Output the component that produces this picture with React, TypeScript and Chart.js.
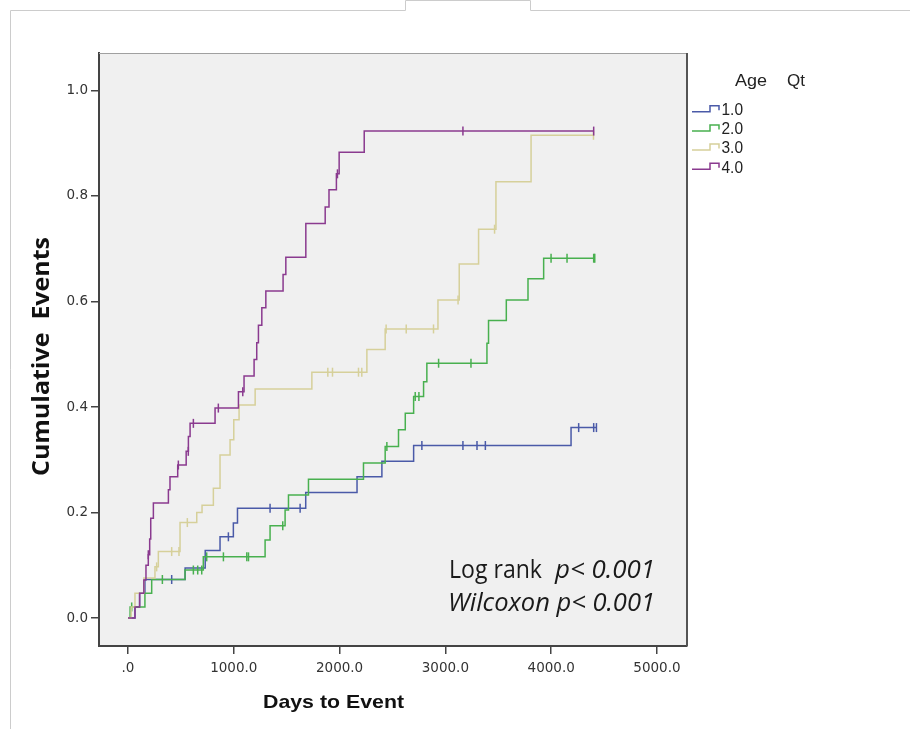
import { useEffect, useRef } from 'react';
import { Chart, registerables } from 'chart.js';

Chart.register(...registerables);

// ---- Data ----
const groupLabels = ['1.0', '2.0', '3.0', '4.0'];
const groupColors = ['#4a5aa8', '#48b04f', '#d6d09a', '#8a3a8f'];

const xTickValues = [0, 1000, 2000, 3000, 4000, 5000];
const yTickValues = [0, 0.2, 0.4, 0.6, 0.8, 1.0];

const q1Days = [0, 66, 110, 160, 540, 730, 870, 996, 1035, 1680, 2165, 2400, 2700, 4188, 4430];
const q1Cum = [0, 0.021, 0.047, 0.073, 0.095, 0.128, 0.154, 0.18, 0.208, 0.238, 0.268, 0.297, 0.327, 0.361, 0.361];
const q1CensorDays = [413, 949, 1343, 1627, 2778, 3166, 3299, 3378, 4260, 4402, 4428];
const q1CensorCum = [0.073, 0.154, 0.208, 0.208, 0.327, 0.327, 0.327, 0.327, 0.361, 0.361, 0.361];

const q2Days = [0, 20, 160, 224, 539, 712, 1296, 1343, 1485, 1517, 1706, 2226, 2431, 2557, 2621, 2700, 2794, 2825, 3393, 3408, 3576, 3781, 3929, 4412];
const q2Cum = [0, 0.021, 0.047, 0.073, 0.091, 0.116, 0.148, 0.175, 0.205, 0.233, 0.263, 0.294, 0.325, 0.357, 0.388, 0.42, 0.448, 0.483, 0.521, 0.564, 0.603, 0.643, 0.682, 0.682];
const q2CensorDays = [35, 325, 618, 659, 697, 744, 902, 1123, 1139, 1463, 2447, 2715, 2750, 2936, 3242, 3999, 4150, 4402, 4412];
const q2CensorCum = [0.021, 0.073, 0.091, 0.091, 0.091, 0.116, 0.116, 0.116, 0.116, 0.175, 0.325, 0.42, 0.42, 0.483, 0.483, 0.682, 0.682, 0.682, 0.682];

const q3Days = [0, 30, 66, 150, 255, 287, 492, 650, 700, 807, 870, 965, 1000, 1050, 1202, 1738, 2258, 2431, 2930, 3131, 3314, 3478, 3810, 4400];
const q3Cum = [0, 0.021, 0.047, 0.076, 0.097, 0.126, 0.181, 0.2, 0.214, 0.246, 0.309, 0.338, 0.376, 0.404, 0.434, 0.466, 0.509, 0.548, 0.603, 0.671, 0.737, 0.827, 0.915, 0.915];
const q3CensorDays = [271, 413, 482, 561, 1889, 1933, 2179, 2210, 2440, 2630, 2888, 3120, 3465, 4400];
const q3CensorCum = [0.097, 0.126, 0.126, 0.181, 0.466, 0.466, 0.466, 0.466, 0.548, 0.548, 0.548, 0.603, 0.737, 0.915];

const q4Days = [0, 66, 110, 150, 170, 192, 205, 215, 240, 382, 397, 470, 550, 571, 587, 823, 1044, 1097, 1192, 1217, 1233, 1265, 1303, 1466, 1492, 1681, 1864, 1900, 1970, 1996, 2233, 4402];
const q4Cum = [0, 0.021, 0.047, 0.072, 0.1, 0.12, 0.15, 0.189, 0.218, 0.243, 0.268, 0.29, 0.316, 0.344, 0.369, 0.398, 0.429, 0.459, 0.49, 0.522, 0.555, 0.588, 0.62, 0.651, 0.684, 0.748, 0.779, 0.812, 0.842, 0.883, 0.923, 0.923];
const q4CensorDays = [192, 476, 570, 618, 854, 1085, 1980, 3166, 4402];
const q4CensorCum = [0.12, 0.29, 0.316, 0.369, 0.398, 0.429, 0.842, 0.923, 0.923];

const stepDays = [q1Days, q2Days, q3Days, q4Days];
const stepCum = [q1Cum, q2Cum, q3Cum, q4Cum];
const censorDays = [q1CensorDays, q2CensorDays, q3CensorDays, q4CensorDays];
const censorCum = [q1CensorCum, q2CensorCum, q3CensorCum, q4CensorCum];

const xTitle = 'Days to Event';
const yTitle = 'Cumulative  Events';
const legendTitleA = 'Age';
const legendTitleB = 'Qt';

function drawFit(ctx: CanvasRenderingContext2D, text: string, font: string, x: number, y: number, w: number) {
  ctx.font = font;
  const m = ctx.measureText(text).width;
  ctx.save();
  ctx.translate(x, y);
  ctx.scale(w / m, 1);
  ctx.textAlign = 'left';
  ctx.textBaseline = 'alphabetic';
  ctx.fillText(text, 0, 0);
  ctx.restore();
}

const decor = {
  id: 'decor',
  beforeDraw(chart: any) {
    const { ctx, chartArea: a } = chart;
    ctx.save();
    ctx.strokeStyle = '#cccccc';
    ctx.lineWidth = 1;
    ctx.beginPath();
    ctx.moveTo(10.5, 729);
    ctx.lineTo(10.5, 10.5);
    ctx.lineTo(405.5, 10.5);
    ctx.lineTo(405.5, 0.5);
    ctx.lineTo(530.5, 0.5);
    ctx.lineTo(530.5, 10.5);
    ctx.lineTo(910, 10.5);
    ctx.stroke();
    ctx.fillStyle = '#f0f0f0';
    ctx.fillRect(a.left, a.top, a.right - a.left, a.bottom - a.top);
    ctx.restore();
  },
  afterDraw(chart: any) {
    const { ctx, chartArea: a } = chart;
    ctx.save();
    // top and right border of the plot
    ctx.strokeStyle = '#a0a0a0';
    ctx.lineWidth = 1;
    ctx.beginPath();
    ctx.moveTo(a.left, a.top + 0.5);
    ctx.lineTo(a.right, a.top + 0.5);
    ctx.stroke();
    ctx.strokeStyle = '#555555';
    ctx.lineWidth = 2;
    ctx.beginPath();
    ctx.moveTo(a.right, a.top);
    ctx.lineTo(a.right, a.bottom);
    ctx.stroke();

    ctx.fillStyle = '#111111';
    // x title
    drawFit(ctx, xTitle, 'bold 19px "Liberation Sans", Arial, sans-serif', 263, 708, 141);
    // y title
    ctx.save();
    ctx.translate(48.5, 476);
    ctx.rotate(-Math.PI / 2);
    drawFit(ctx, yTitle, 'bold 23px "Open Sans", sans-serif', 0, 0, 239);
    ctx.restore();

    // annotation
    ctx.fillStyle = '#1a1a1a';
    drawFit(ctx, 'Log rank', '25px "Open Sans", sans-serif', 449, 578, 93);
    drawFit(ctx, 'p< 0.001', 'italic 25px "Open Sans", sans-serif', 555, 578, 100);
    drawFit(ctx, 'Wilcoxon p< 0.001', 'italic 25px "Open Sans", sans-serif', 448, 611, 207);

    // legend
    ctx.fillStyle = '#222222';
    drawFit(ctx, legendTitleA, '16px "Liberation Sans", Arial, sans-serif', 735, 86, 32);
    drawFit(ctx, legendTitleB, '16px "Liberation Sans", Arial, sans-serif', 787, 86, 18);
    groupLabels.forEach((lab, i) => {
      const base = 115 + i * 19.2;
      const c = base - 5.8;
      ctx.strokeStyle = groupColors[i];
      ctx.lineWidth = 1.5;
      ctx.beginPath();
      ctx.moveTo(692, c + 2.5);
      ctx.lineTo(710, c + 2.5);
      ctx.lineTo(710, c - 3.5);
      ctx.lineTo(719, c - 3.5);
      ctx.lineTo(719, c + 1);
      ctx.stroke();
      ctx.fillStyle = '#222222';
      drawFit(ctx, lab, '16px "Liberation Sans", Arial, sans-serif', 721.5, base, 21.5);
    });
    ctx.restore();
  },
};

export default function App() {
  const ref = useRef<HTMLCanvasElement | null>(null);

  useEffect(() => {
    if (!ref.current) return;
    const datasets: any[] = [];
    for (let i = 3; i >= 0; i--) {
      datasets.push({
        type: 'line',
        label: groupLabels[i],
        data: stepDays[i].map((d, k) => ({ x: d, y: stepCum[i][k] })),
        borderColor: groupColors[i],
        borderWidth: 1.5,
        pointRadius: 0,
        stepped: true,
        fill: false,
      });
      datasets.push({
        type: 'scatter',
        label: groupLabels[i] + ' censored',
        data: censorDays[i].map((d, k) => ({ x: d, y: censorCum[i][k] })),
        borderColor: groupColors[i],
        backgroundColor: groupColors[i],
        pointStyle: 'line',
        rotation: 90,
        pointRadius: 4.5,
        borderWidth: 1.5,
        showLine: false,
      });
    }

    const tickFont = { family: '"DejaVu Sans", sans-serif', size: 13.5 };
    const chart = new Chart(ref.current, {
      type: 'line',
      data: { datasets },
      options: {
        animation: false,
        responsive: false,
        devicePixelRatio: 1,
        layout: { padding: { left: 0, top: 53, right: 223, bottom: 0 } },
        plugins: { legend: { display: false }, tooltip: { enabled: false } },
        scales: {
          x: {
            type: 'linear',
            min: -274,
            max: 5284,
            afterBuildTicks: (s: any) => {
              s.ticks = xTickValues.map((v) => ({ value: v }));
            },
            afterFit: (s: any) => {
              s.height = 83;
            },
            ticks: {
              callback: (v: any) => (Number(v) === 0 ? '.0' : Number(v).toFixed(1)),
              font: tickFont,
              color: '#333333',
              padding: 6,
              maxRotation: 0,
              autoSkip: false,
            },
            grid: { drawOnChartArea: false, drawTicks: true, tickLength: 8, color: '#444444', lineWidth: 1.5 },
            border: { display: true, color: '#444444', width: 2 },
          },
          y: {
            type: 'linear',
            min: -0.053,
            max: 1.071,
            afterBuildTicks: (s: any) => {
              s.ticks = yTickValues.map((v) => ({ value: v }));
            },
            afterFit: (s: any) => {
              s.width = 99;
            },
            ticks: {
              callback: (v: any) => Number(v).toFixed(1),
              font: tickFont,
              color: '#333333',
              padding: 3,
              autoSkip: false,
            },
            grid: { drawOnChartArea: false, drawTicks: true, tickLength: 8, color: '#444444', lineWidth: 1.5 },
            border: { display: true, color: '#444444', width: 2 },
          },
        },
      } as any,
      plugins: [decor],
    });
    return () => chart.destroy();
  }, []);

  return (
    <div style={{ position: 'absolute', left: 0, top: 0, width: 910, height: 729, background: '#ffffff' }}>
      <canvas ref={ref} width={910} height={729} />
    </div>
  );
}
